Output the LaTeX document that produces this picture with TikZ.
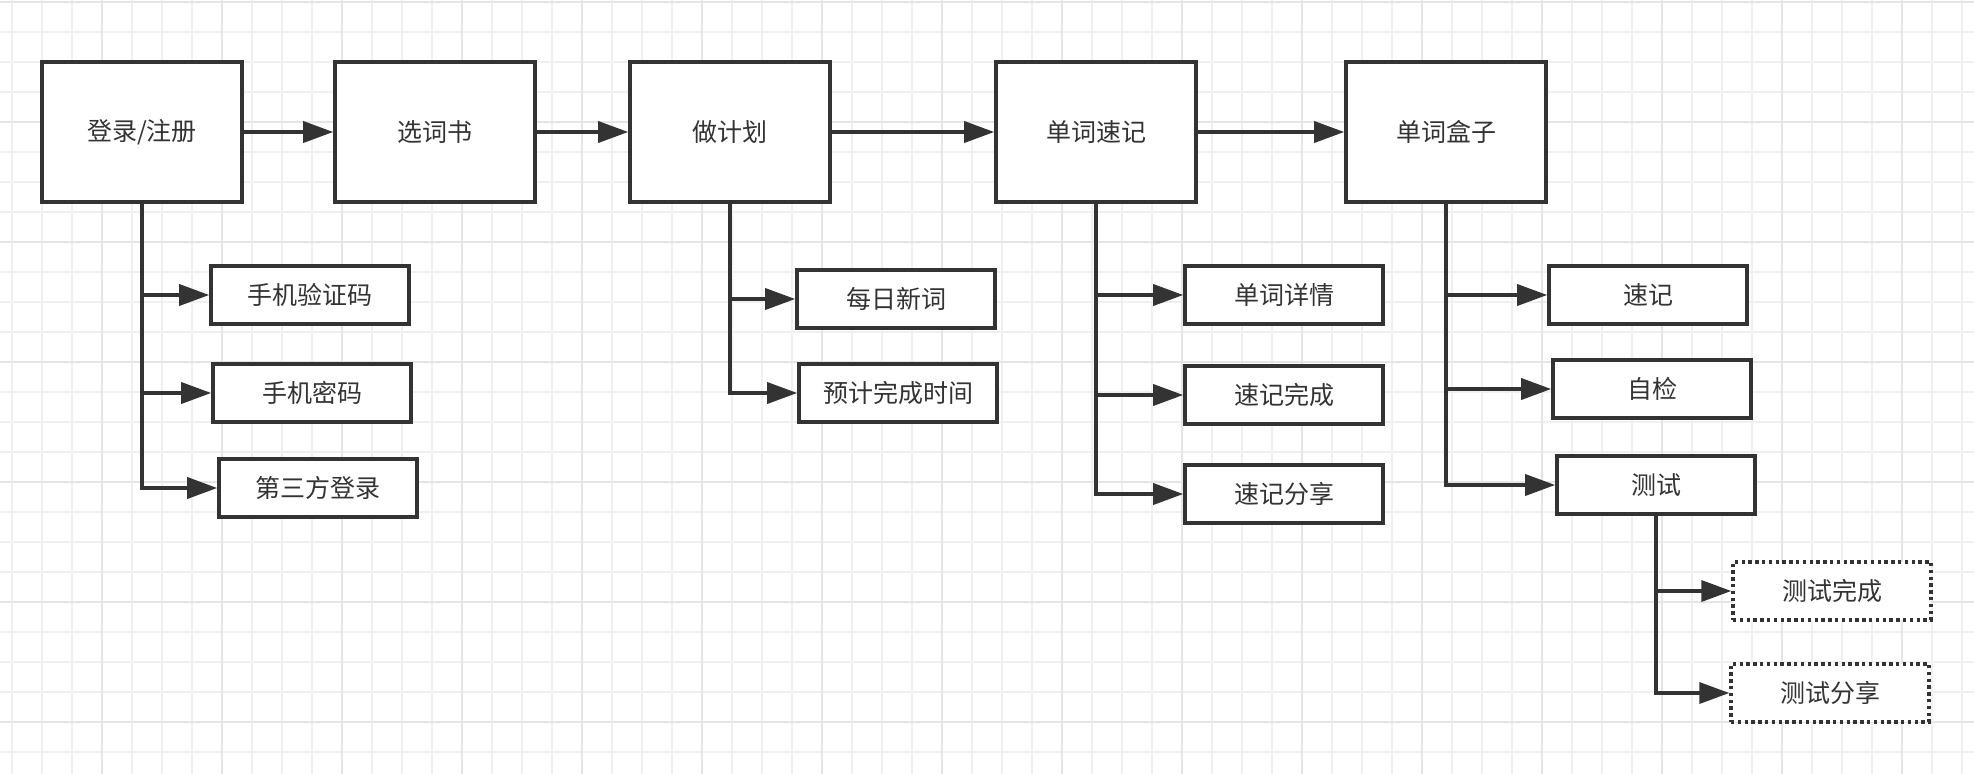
\documentclass[tikz,border=0pt]{standalone}
\usepackage{fontspec}
\newfontfamily\cjk{Noto Sans CJK SC}
\usetikzlibrary{arrows.meta}
\definecolor{ink}{HTML}{333333}
\definecolor{gridminor}{HTML}{F0F0F0}
\definecolor{gridmajor}{HTML}{E5E5E5}
\begin{document}
\begin{tikzpicture}[x=1pt,y=-1pt,
 mainbox/.style={draw=ink, line width=3.6pt, fill=white, minimum width=200pt, minimum height=140pt, inner sep=0pt, font=\cjk\fontsize{25}{30}\selectfont, text=ink},
 subbox/.style={mainbox, minimum width=198pt, minimum height=58pt},
 dotbox/.style={subbox, dash pattern=on 3.4pt off 3.4pt, line width=3.4pt},
 conn/.style={draw=ink, line width=3.6pt, -{Triangle[length=30pt,width=21pt]}},
 gminor/.style={draw=gridminor, line width=1.5pt},
 gmajor/.style={draw=gridmajor, line width=2pt}]
\useasboundingbox (0,0) rectangle (1974,774);
\fill[white] (0,0) rectangle (1974,774);
\foreach \x in {12,42,...,1962} \draw[gminor] (\x,0) -- (\x,774);
\foreach \y in {2,32,...,752} \draw[gminor] (0,\y) -- (1974,\y);
\foreach \x in {102,222,...,1902} \draw[gmajor] (\x,0) -- (\x,774);
\foreach \y in {2,122,...,722} \draw[gmajor] (0,\y) -- (1974,\y);

% main row
\node[mainbox] (A) at (142,132) {登录/注册};
\node[mainbox] (B) at (435,132) {选词书};
\node[mainbox] (C) at (730,132) {做计划};
\node[mainbox] (D) at (1096,132) {单词速记};
\node[mainbox] (E) at (1446,132) {单词盒子};

% sub boxes
\node[subbox] (A1) at (310,295) {手机验证码};
\node[subbox] (A2) at (312,393) {手机密码};
\node[subbox] (A3) at (318,488) {第三方登录};
\node[subbox] (C1) at (896,299) {每日新词};
\node[subbox] (C2) at (898,393) {预计完成时间};
\node[subbox] (D1) at (1284,295) {单词详情};
\node[subbox] (D2) at (1284,395) {速记完成};
\node[subbox] (D3) at (1284,494) {速记分享};
\node[subbox] (E1) at (1648,295) {速记};
\node[subbox] (E2) at (1652,389) {自检};
\node[subbox] (E3) at (1656,485) {测试};
\node[dotbox] (F1) at (1832,591) {测试完成};
\node[dotbox] (F2) at (1830,693) {测试分享};

% connectors
\draw[conn] (A) -- (B);
\draw[conn] (B) -- (C);
\draw[conn] (C) -- (D);
\draw[conn] (D) -- (E);
\foreach \c in {A1,A2,A3} \draw[conn] (A.south) |- (\c.west);
\foreach \c in {C1,C2} \draw[conn] (C.south) |- (\c.west);
\foreach \c in {D1,D2,D3} \draw[conn] (D.south) |- (\c.west);
\foreach \c in {E1,E2,E3} \draw[conn] (E.south) |- (\c.west);
\foreach \c in {F1,F2} \draw[conn] (E3.south) |- (\c.west);
\end{tikzpicture}
\end{document}
